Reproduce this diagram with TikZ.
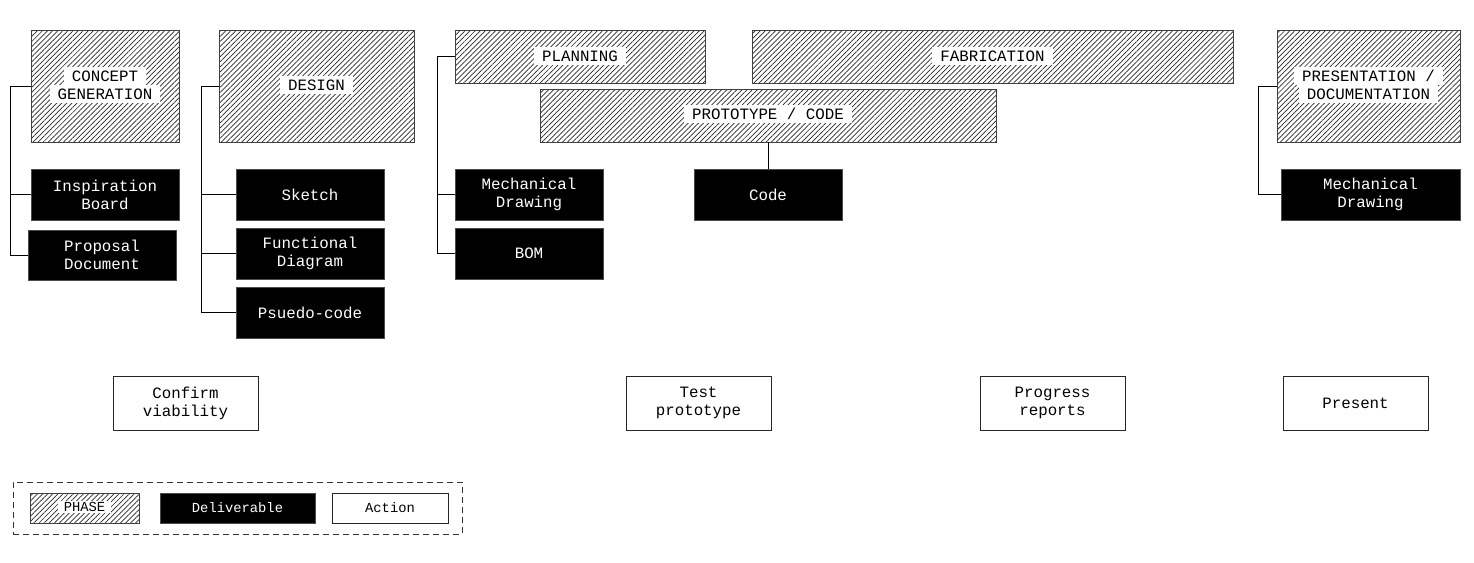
\documentclass[tikz,border=0pt]{standalone}
\usepackage{fontspec}
\setmainfont{Liberation Mono}
\setmonofont{Liberation Mono}
\usetikzlibrary{patterns.meta}
\begin{document}
\begin{tikzpicture}[x=1pt,y=-1pt,
  txt/.style={font=\fontsize{15.8}{18}\selectfont, align=center},
  phase/.style={draw=black!75, line width=0.8pt, pattern={Lines[angle=45,distance=3.6pt,line width=0.7pt]}, pattern color=black!85, inner sep=0pt},
  plabel/.style={txt, fill=white, text=black, inner xsep=8pt, inner ysep=1.5pt, minimum height=18pt},
  deliv/.style={txt, draw=black!70, line width=0.8pt, fill=black, text=white, inner sep=0pt},
  action/.style={txt, draw=black!85, line width=0.8pt, fill=white, inner sep=0pt, minimum width=145pt, minimum height=54pt},
  conn/.style={draw=black, line width=0.9pt},
  lgd/.style={font=\fontsize{13.8}{16}\selectfont}
]
\useasboundingbox (0,0) rectangle (1474,562);

% branch columns
\coordinate (b1) at (10,0);
\coordinate (b2) at (201,0);
\coordinate (b3) at (437,0);
\coordinate (b4) at (1258,0);

% CONCEPT GENERATION
\node[phase, minimum width=148pt, minimum height=112pt] (cg) at (105,86) {};
\node[plabel] (cgl1) at (105,76) {CONCEPT};
\node[plabel] (cgl2) at (105,94) {GENERATION};
\node[deliv, minimum width=148pt, minimum height=51pt] (ib) at (105,194.5) {Inspiration\\Board};
\node[deliv, minimum width=148pt, minimum height=50pt] (pd) at (102,255) {Proposal\\Document};
\draw[conn] (cg.west) -- (cg.west -| b1) |- (pd.west);
\draw[conn] (ib.west -| b1) -- (ib.west);

% DESIGN
\node[phase, minimum width=195pt, minimum height=112pt] (ds) at (316.5,86) {};
\node[plabel] (dsl) at (316.5,85) {DESIGN};
\node[deliv, minimum width=148pt, minimum height=51pt] (sk) at (310,194.5) {Sketch};
\node[deliv, minimum width=148pt, minimum height=51pt] (fd) at (310,253.5) {Functional\\Diagram};
\node[deliv, minimum width=148pt, minimum height=51pt] (pc) at (310,312.5) {Psuedo-code};
\draw[conn] (ds.west) -- (ds.west -| b2) |- (pc.west);
\draw[conn] (sk.west -| b2) -- (sk.west);
\draw[conn] (fd.west -| b2) -- (fd.west);

% PLANNING
\node[phase, minimum width=250pt, minimum height=53pt] (pl) at (580,56.5) {};
\node[plabel] (pll) at (580,56) {PLANNING};
\node[deliv, minimum width=148pt, minimum height=51pt] (md) at (529,194.5) {Mechanical\\Drawing};
\node[deliv, minimum width=148pt, minimum height=51pt] (bom) at (529,253.5) {BOM};
\draw[conn] (pl.west) -- (pl.west -| b3) |- (bom.west);
\draw[conn] (md.west -| b3) -- (md.west);

% FABRICATION
\node[phase, minimum width=481pt, minimum height=53pt] (fb) at (992.5,56.5) {};
\node[plabel] (fbl) at (992.5,56) {FABRICATION};

% PROTOTYPE / CODE
\node[phase, minimum width=456pt, minimum height=53pt] (pr) at (768,115.5) {};
\node[plabel] (prl) at (768,114) {PROTOTYPE / CODE};
\node[deliv, minimum width=148pt, minimum height=51pt] (code) at (768,194.5) {Code};
\draw[conn] (pr.south) -- (code.north);

% PRESENTATION / DOCUMENTATION
\node[phase, minimum width=183pt, minimum height=112pt] (pdoc) at (1368.5,86) {};
\node[plabel] (pdl1) at (1368.5,76) {PRESENTATION /};
\node[plabel] (pdl2) at (1368.5,94) {DOCUMENTATION};
\node[deliv, minimum width=179pt, minimum height=51pt] (md2) at (1370.5,194.5) {Mechanical\\Drawing};
\draw[conn] (pdoc.west) -- (pdoc.west -| b4) |- (md2.west);

% Actions
\node[action] (a1) at (185.5,403) {Confirm\\viability};
\node[action] (a2) at (698.5,403) {Test\\prototype};
\node[action] (a3) at (1052.5,403) {Progress\\reports};
\node[action] (a4) at (1355.5,403) {Present};

% Legend
\node[draw=black!80, dashed, dash pattern=on 6pt off 4pt, line width=0.8pt, minimum width=449pt, minimum height=52pt, inner sep=0pt] (lg) at (237.5,508) {};
\node[phase, minimum width=109pt, minimum height=30pt] (lp) at (84.5,508) {};
\node[lgd, fill=white, inner xsep=6pt, inner ysep=1pt] (lpl) at (84.5,507) {PHASE};
\node[lgd, draw=black!70, line width=0.8pt, fill=black, text=white, minimum width=155pt, minimum height=30pt, inner sep=0pt] (ld) at (237.5,508) {Deliverable};
\node[lgd, draw=black!85, line width=0.8pt, fill=white, minimum width=116pt, minimum height=30pt, inner sep=0pt] (la) at (390,508) {Action};
\end{tikzpicture}
\end{document}
